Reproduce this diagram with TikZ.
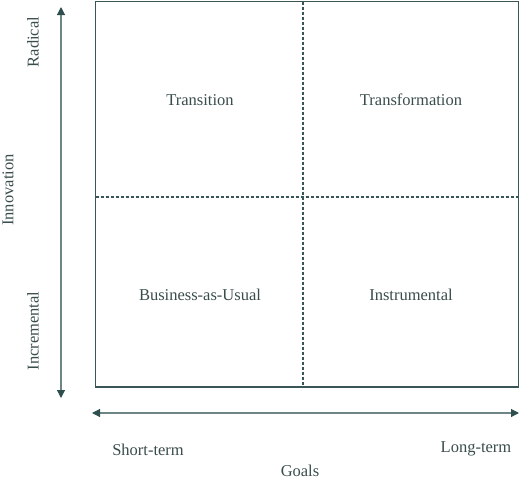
\documentclass[tikz,border=0pt]{standalone}
\usepackage{fontspec}
\setmainfont{Liberation Serif}
\usetikzlibrary{arrows.meta}
\definecolor{boxc}{HTML}{3A5555}
\definecolor{txtc}{HTML}{3A4C4C}
\definecolor{axisc}{HTML}{6E8585}
\definecolor{tipc}{HTML}{2F4F4F}
\tikzset{
  lbl/.style={text=txtc,font=\fontsize{16.5}{19}\selectfont,inner sep=0pt},
  axisarrow/.style={draw=axisc,line width=1.1pt,-{Triangle[length=8pt,width=8pt,color=tipc]}},
  divider/.style={draw=boxc,line width=1.1pt,dash pattern=on 3pt off 2pt},
  frame/.style={draw=boxc,line width=1.8pt}
}
\begin{document}
\begin{tikzpicture}[x=1pt,y=-1pt]
\useasboundingbox (0,0) rectangle (520,483);
\draw[frame] (95.5,1.5) rectangle (518.5,387);
\coordinate (vtop) at (303,1.5);
\coordinate (vbot) at (303,387);
\coordinate (hl) at (95.5,197);
\coordinate (hr) at (518.5,197);
\draw[divider] (vtop) -- (vbot);
\draw[divider] (hl) -- (hr);
\node[lbl] (transition) at (200,100) {Transition};
\node[lbl] (transformation) at (411,100) {Transformation};
\node[lbl] (bau) at (200,295) {Business-as-Usual};
\node[lbl] (instrumental) at (411,295) {Instrumental};
\coordinate (vmid) at (61,200);
\coordinate (vup) at (61,7);
\coordinate (vdown) at (61,398);
\draw[axisarrow] (vmid) -- (vup);
\draw[axisarrow] (vmid) -- (vdown);
\coordinate (hmid) at (305,413);
\coordinate (hleft) at (92,413);
\coordinate (hright) at (519,413);
\draw[axisarrow] (hmid) -- (hleft);
\draw[axisarrow] (hmid) -- (hright);
\node[lbl,rotate=90] (radical) at (33,42) {Radical};
\node[lbl,rotate=90] (incremental) at (33,331) {Incremental};
\node[lbl,rotate=90] (innovation) at (8,190) {Innovation};
\node[lbl] (short) at (148,450) {Short-term};
\node[lbl] (long) at (476,449) {Long-term};
\node[lbl] (goals) at (300,471) {Goals};
\end{tikzpicture}
\end{document}
